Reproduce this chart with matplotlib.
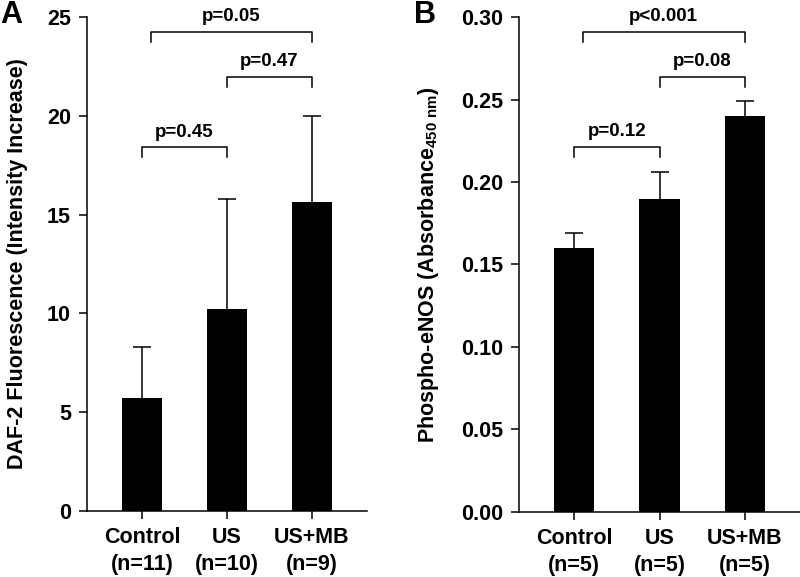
import matplotlib
matplotlib.use("Agg")
import matplotlib.pyplot as plt

plt.rcParams['font.family'] = ['Liberation Sans', 'DejaVu Sans']
plt.rcParams['font.weight'] = 'bold'
plt.rcParams['mathtext.fontset'] = 'custom'
plt.rcParams['mathtext.rm'] = 'Liberation Sans:bold'
plt.rcParams['mathtext.bf'] = 'Liberation Sans:bold'

labels_a = ["Control\n(n=11)", "US\n(n=10)", "US+MB\n(n=9)"]
means_a = [5.73, 10.2, 15.62]
err_a = [2.55, 5.6, 4.35]

labels_b = ["Control\n(n=5)", "US\n(n=5)", "US+MB\n(n=5)"]
means_b = [0.160, 0.190, 0.240]
err_b = [0.009, 0.016, 0.009]

# brackets: (x1, x2, y_top, drop, text)
brackets_a = [(0.1, 2.0, 24.25, 0.5, "p=0.05"), (1.0, 2.0, 21.95, 0.5, "p=0.47"), (0.0, 1.0, 18.4, 0.5, "p=0.45")]
brackets_b = [(0.1, 2.0, 0.291, 0.006, "p<0.001"), (1.0, 2.0, 0.2635, 0.006, "p=0.08"), (0.0, 1.0, 0.221, 0.006, "p=0.12")]

fig = plt.figure(figsize=(8, 5.77), dpi=100)
axA = fig.add_axes([0.10875, 0.1144, 0.35, 0.856])
axB = fig.add_axes([0.64875, 0.1132, 0.35125, 0.857])


def draw(ax, labels, means, errs, brackets, ylim, yticks, ytl, ylabel, txt_off, lpad):
    x = list(range(len(means)))
    tops = [m + e for m, e in zip(means, errs)]
    ax.bar(x, means, width=0.47, color='black', zorder=2)
    ax.vlines(x, means, tops, color='black', lw=1.1, zorder=1)
    ax.plot(x, tops, ls='none', marker='_', markersize=13, mew=1.1, color='black', zorder=1)
    ax.set_xlim(-0.65, 2.65)
    ax.set_ylim(*ylim)
    ax.set_yticks(yticks)
    ax.set_yticklabels(ytl, fontsize=15.5, fontweight='bold')
    ax.set_xticks(x)
    ax.set_xticklabels(labels, fontsize=15.5, fontweight='bold', linespacing=1.4)
    ax.spines['top'].set_visible(False)
    ax.spines['right'].set_visible(False)
    ax.spines['left'].set_linewidth(1.1)
    ax.spines['bottom'].set_linewidth(1.1)
    ax.tick_params(axis='both', direction='out', length=5.5, width=1.1, pad=6)
    ax.set_ylabel(ylabel, fontsize=15.5, fontweight='bold', labelpad=lpad)
    for x1, x2, yt, d, t in brackets:
        ax.plot([x1, x1, x2, x2], [yt - d, yt, yt, yt - d], color='black', lw=1.1, clip_on=False)
        ax.text((x1 + x2) / 2, yt + txt_off, t, ha='center', va='bottom', fontsize=13.5, fontweight='bold')


draw(axA, labels_a, means_a, err_a, brackets_a, (0, 25), [0, 5, 10, 15, 20, 25],
     ["0", "5", "10", "15", "20", "25"], "DAF-2 Fluorescence (Intensity Increase)", 0.35, 14)
draw(axB, labels_b, means_b, err_b, brackets_b, (0, 0.30), [0, 0.05, 0.10, 0.15, 0.20, 0.25, 0.30],
     ["0.00", "0.05", "0.10", "0.15", "0.20", "0.25", "0.30"],
     r"Phospho-eNOS (Absorbance$_{\mathregular{450\ nm}}$)", 0.0042, 14)

fig.text(0.0, 1.0, "A", fontsize=22, fontweight='bold', ha='left', va='top')
fig.text(0.517, 1.0, "B", fontsize=22, fontweight='bold', ha='left', va='top')

fig.savefig("out.png", dpi=100)
